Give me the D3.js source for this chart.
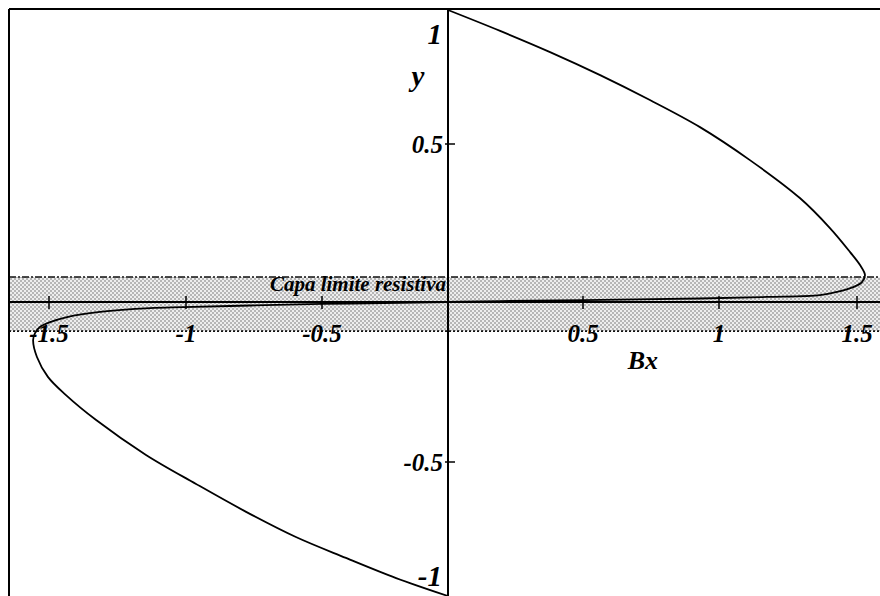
<!DOCTYPE html>
<html>
<head>
<meta charset="utf-8">
<script src="https://cdn.jsdelivr.net/npm/d3@7"></script>
<style>
  html, body { margin: 0; padding: 0; background: #fff; }
  svg { display: block; }
  .lbl { font-family: "Liberation Serif", "Times New Roman", serif; font-weight: bold; font-style: italic; fill: #000; }
</style>
</head>
<body>
<svg id="chart" width="880" height="596"></svg>
<script>
// Induced field profile Bx(y), traced along the branch from the upper wall to the lower wall
const curveBx = [0, 0.193, 0.378, 0.563, 0.746, 0.930, 1.112, 1.293, 1.402, 1.475, 1.511, 1.529,
  1.518, 1.486, 1.428, 1.366, 1.174, 0.930, 0.5, 0.193, 0,
  -0.190, -0.5, -0.765, -1.011, -1.131, -1.314, -1.434, -1.496, -1.533, -1.551, -1.558,
  -1.544, -1.504, -1.438, -1.328, -1.146, -0.963, -0.779, -0.596, -0.405, -0.206, 0];
const curveY = [1.0, 0.922, 0.843, 0.757, 0.664, 0.563, 0.449, 0.329, 0.234, 0.158, 0.117, 0.085,
  0.063, 0.047, 0.032, 0.022, 0.016, 0.011, 0.006, 0.003, 0,
  -0.003, -0.006, -0.011, -0.016, -0.019, -0.031, -0.047, -0.063, -0.078, -0.097, -0.119,
  -0.172, -0.234, -0.291, -0.369, -0.478, -0.582, -0.686, -0.780, -0.858, -0.933, -1.0];

// Resistive boundary layer limits (in y)
const layerTop = 0.079;
const layerBottom = -0.091;
const layerLabel = "Capa limite resistiva";

// Axis ticks
const xTicks = [-1.5, -1, -0.5, 0.5, 1, 1.5];
const xTickLabels = ["-1.5", "-1", "-0.5", "0.5", "1", "1.5"];
const yTicks = [0.5, -0.5];
const yTickLabels = ["0.5", "-0.5"];
const yEndTicks = [1, -1];
const yEndLabels = ["1", "-1"];
const xAxisTitle = "Bx";
const yAxisTitle = "y";

const W = 880, H = 596;
const frameLeft = 9, frameTop = 9;

const x = d3.scaleLinear()
  .domain([-1.5, -1, -0.5, 0, 0.5, 1, 1.5])
  .range([49, 186, 322, 448, 583, 719, 857]);
const y = d3.scaleLinear()
  .domain([-1, -0.5, 0, 0.5, 1])
  .range([596, 462, 302, 144, 10]);

const svg = d3.select("#chart");
svg.append("rect").attr("width", W).attr("height", H).attr("fill", "#fff");

// stipple pattern for the boundary layer band
const defs = svg.append("defs");
const pat = defs.append("pattern")
  .attr("id", "stipple").attr("patternUnits", "userSpaceOnUse")
  .attr("width", 4).attr("height", 4);
pat.append("rect").attr("width", 4).attr("height", 4).attr("fill", "#eeeeee");
pat.append("circle").attr("cx", 1).attr("cy", 1).attr("r", 0.8).attr("fill", "#707070");
pat.append("circle").attr("cx", 3).attr("cy", 3).attr("r", 0.8).attr("fill", "#707070");

const band = svg.append("g");
band.append("rect")
  .attr("x", frameLeft).attr("y", y(layerTop))
  .attr("width", W - frameLeft).attr("height", y(layerBottom) - y(layerTop))
  .attr("fill", "url(#stipple)");
band.append("line")
  .attr("x1", frameLeft).attr("x2", W)
  .attr("y1", y(layerTop)).attr("y2", y(layerTop))
  .attr("stroke", "#111").attr("stroke-width", 1.6)
  .attr("stroke-dasharray", "7,2,2,2");
band.append("line")
  .attr("x1", frameLeft).attr("x2", W)
  .attr("y1", y(layerBottom)).attr("y2", y(layerBottom))
  .attr("stroke", "#111").attr("stroke-width", 1.6)
  .attr("stroke-dasharray", "2,2");

// frame
svg.append("line").attr("x1", frameLeft).attr("x2", W).attr("y1", frameTop).attr("y2", frameTop)
  .attr("stroke", "#000").attr("stroke-width", 2);
svg.append("line").attr("x1", frameLeft).attr("x2", frameLeft).attr("y1", frameTop).attr("y2", H)
  .attr("stroke", "#000").attr("stroke-width", 2);

// axes through the origin
svg.append("line").attr("x1", frameLeft).attr("x2", W).attr("y1", y(0)).attr("y2", y(0))
  .attr("stroke", "#000").attr("stroke-width", 2);
svg.append("line").attr("x1", x(0)).attr("x2", x(0)).attr("y1", frameTop).attr("y2", H)
  .attr("stroke", "#000").attr("stroke-width", 2);

// x ticks
svg.append("g").selectAll("line").data(xTicks).join("line")
  .attr("x1", d => x(d)).attr("x2", d => x(d))
  .attr("y1", y(0) - 6).attr("y2", y(0) + 7)
  .attr("stroke", "#000").attr("stroke-width", 1.5);
svg.append("g").selectAll("text").data(xTicks).join("text")
  .attr("class", "lbl").attr("font-size", 25)
  .attr("text-anchor", "middle")
  .attr("x", d => x(d)).attr("y", y(0) + 40)
  .text((d, i) => xTickLabels[i]);

// y ticks
svg.append("g").selectAll("line").data(yTicks).join("line")
  .attr("x1", x(0) - 3).attr("x2", x(0) + 7)
  .attr("y1", d => y(d)).attr("y2", d => y(d))
  .attr("stroke", "#000").attr("stroke-width", 1.5);
svg.append("g").selectAll("text").data(yTicks).join("text")
  .attr("class", "lbl").attr("font-size", 25)
  .attr("text-anchor", "end")
  .attr("x", x(0) - 5).attr("y", d => y(d) + 9)
  .text((d, i) => yTickLabels[i]);
// labels at the ends of the y axis
svg.append("g").selectAll("text").data(yEndTicks).join("text")
  .attr("class", "lbl").attr("font-size", 29)
  .attr("text-anchor", "end")
  .attr("x", x(0) - 6).attr("y", d => d > 0 ? y(d) + 34 : y(d) - 10)
  .text((d, i) => yEndLabels[i]);

// axis titles
svg.append("text").attr("class", "lbl").attr("font-size", 29)
  .attr("text-anchor", "middle")
  .attr("x", x(0) - 30).attr("y", y(0.715))
  .text(yAxisTitle);
svg.append("text").attr("class", "lbl").attr("font-size", 26)
  .attr("text-anchor", "middle")
  .attr("x", x(0.72)).attr("y", y(0) + 67)
  .text(xAxisTitle);

// boundary layer label
svg.append("text").attr("class", "lbl").attr("font-size", 21)
  .attr("text-anchor", "end")
  .attr("x", x(0) - 2).attr("y", y(layerTop) + 14)
  .attr("textLength", 176).attr("lengthAdjust", "spacingAndGlyphs")
  .text(layerLabel);

// field profile
const pts = curveBx.map((b, i) => [b, curveY[i]]);
const line = d3.line()
  .x(d => x(d[0])).y(d => y(d[1]))
  .curve(d3.curveCatmullRom.alpha(0.5));
svg.append("path").datum(pts)
  .attr("d", line)
  .attr("fill", "none").attr("stroke", "#000").attr("stroke-width", 1.8);
</script>
</body>
</html>
